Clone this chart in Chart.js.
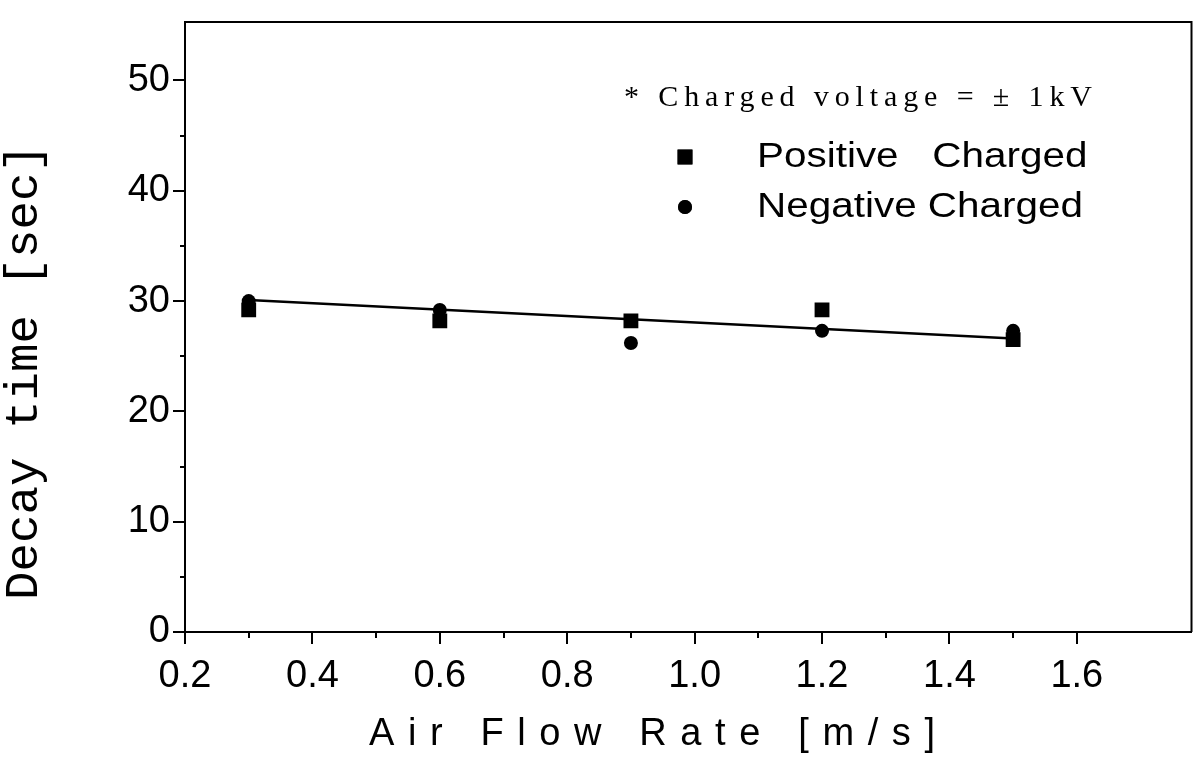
<!DOCTYPE html>
<html>
<head>
<meta charset="utf-8">
<script src="https://cdn.jsdelivr.net/npm/chart.js@4.4.1/dist/chart.umd.min.js"></script>
<style>
  html, body { margin: 0; padding: 0; background: #fff; }
  #wrap { width: 1202px; height: 758px; }
</style>
</head>
<body>
<div id="wrap"><canvas id="decay-chart" width="1202" height="758"></canvas></div>
<script>
const flowRates = [0.3, 0.6, 0.9, 1.2, 1.5];
const positiveDecay = [29.2, 28.2, 28.2, 29.2, 26.5];
const negativeDecay = [30.0, 29.2, 26.2, 27.3, 27.3];
const fitFlow = [0.3, 1.5];
const fitDecay = [30.1, 26.6];
const xMajorTicks = [0.2, 0.4, 0.6, 0.8, 1.0, 1.2, 1.4, 1.6];
const xMinorTicks = [0.3, 0.5, 0.7, 0.9, 1.1, 1.3, 1.5];
const yMajorTicks = [0, 10, 20, 30, 40, 50];
const yMinorTicks = [5, 15, 25, 35, 45];
const seriesLabels = ["Positive   Charged", "Negative Charged"];
const noteText = "* Charged voltage = \u00b1 1kV";
const xTitle = "Air Flow Rate [m/s]";
const yTitle = "Decay time [sec]";

const SANS = '"Liberation Sans", Arial, sans-serif';
const SERIF = '"Liberation Serif", "Times New Roman", serif';
const MONO = '"Liberation Mono", "Courier New", monospace';

function toPoints(xs, ys) {
  return xs.map((x, i) => ({ x: x, y: ys[i] }));
}

// draw text squeezed/stretched to a given width
function fillFit(ctx, text, x, y, width) {
  const w = ctx.measureText(text).width;
  ctx.save();
  ctx.translate(x, y);
  ctx.scale(width / w, 1);
  ctx.textAlign = "left";
  ctx.fillText(text, 0, 0);
  ctx.restore();
}

// draw text with letter spacing so that it spans width, starting at x
function fillSpaced(ctx, text, x, y, width) {
  ctx.save();
  ctx.letterSpacing = "0px";
  const natural = ctx.measureText(text).width;
  const gap = (width - natural) / (text.length - 1);
  ctx.letterSpacing = gap + "px";
  ctx.textAlign = "left";
  ctx.fillText(text, x, y);
  ctx.restore();
}

const decorations = {
  id: "decorations",
  afterDraw(chart) {
    const ctx = chart.ctx;
    const area = chart.chartArea;
    const xs = chart.scales.x;
    const ys = chart.scales.y;

    ctx.save();
    ctx.strokeStyle = "#000";
    ctx.fillStyle = "#000";
    ctx.lineWidth = 2;

    // top and right frame
    ctx.beginPath();
    ctx.moveTo(area.left, area.top);
    ctx.lineTo(area.right, area.top);
    ctx.lineTo(area.right, area.bottom);
    ctx.stroke();

    // tick marks
    ctx.beginPath();
    xMajorTicks.forEach((v) => {
      const px = Math.round(xs.getPixelForValue(v));
      ctx.moveTo(px, area.bottom);
      ctx.lineTo(px, area.bottom + 12);
    });
    xMinorTicks.forEach((v) => {
      const px = Math.round(xs.getPixelForValue(v));
      ctx.moveTo(px, area.bottom);
      ctx.lineTo(px, area.bottom + 6);
    });
    yMajorTicks.forEach((v) => {
      const py = Math.round(ys.getPixelForValue(v));
      ctx.moveTo(area.left, py);
      ctx.lineTo(area.left - 12, py);
    });
    yMinorTicks.forEach((v) => {
      const py = Math.round(ys.getPixelForValue(v));
      ctx.moveTo(area.left, py);
      ctx.lineTo(area.left - 5, py);
    });
    ctx.stroke();

    // axis titles
    ctx.textBaseline = "middle";
    ctx.font = "38px " + SANS;
    fillSpaced(ctx, xTitle, 369, 735, 566);

    ctx.save();
    ctx.translate(25, 372);
    ctx.rotate(-Math.PI / 2);
    ctx.font = "46px " + MONO;
    fillFit(ctx, yTitle, -228, 0, 456);
    ctx.restore();

    // note
    ctx.font = "30px " + SERIF;
    fillSpaced(ctx, noteText, 624, 98, 468);

    // legend
    const rows = [157, 207];
    ctx.font = "35px " + SANS;
    const stretch = 326 / ctx.measureText(seriesLabels[1]).width;
    chart.data.datasets.slice(0, 2).forEach((ds, i) => {
      Chart.helpers.drawPoint(ctx, {
        pointStyle: ds.pointStyle,
        radius: ds.pointRadius,
        rotation: 0,
        borderWidth: 0
      }, 685, rows[i]);
      ctx.fill();
      const w = ctx.measureText(ds.label).width * stretch;
      fillFit(ctx, ds.label, 757, rows[i], w);
    });

    ctx.restore();
  }
};

function dropPadding(scale) {
  scale.paddingTop = 0;
  scale.paddingBottom = 0;
  scale.paddingLeft = 0;
  scale.paddingRight = 0;
}

new Chart(document.getElementById("decay-chart"), {
  type: "scatter",
  data: {
    datasets: [
      {
        label: seriesLabels[0],
        data: toPoints(flowRates, positiveDecay),
        pointStyle: "rect",
        pointRadius: 10.5,
        backgroundColor: "#000",
        borderColor: "#000",
        borderWidth: 0
      },
      {
        label: seriesLabels[1],
        data: toPoints(flowRates, negativeDecay),
        pointStyle: "circle",
        pointRadius: 7,
        backgroundColor: "#000",
        borderColor: "#000",
        borderWidth: 0
      },
      {
        label: "fit",
        data: toPoints(fitFlow, fitDecay),
        showLine: true,
        pointRadius: 0,
        borderColor: "#000",
        borderWidth: 2.5,
        order: 5
      }
    ]
  },
  options: {
    responsive: false,
    animation: false,
    devicePixelRatio: 1,
    layout: {
      padding: { left: 0, right: 4, top: 22, bottom: 0 }
    },
    scales: {
      x: {
        type: "linear",
        min: 0.2,
        max: 1.78,
        afterBuildTicks: (scale) => {
          scale.ticks = xMajorTicks.map((v) => ({ value: v }));
        },
        afterFit: (scale) => {
          scale.height = 126;
          dropPadding(scale);
        },
        grid: { display: false, drawTicks: false },
        border: { display: true, color: "#000", width: 2 },
        ticks: {
          color: "#000",
          padding: 22,
          font: { family: SANS, size: 38 },
          maxRotation: 0,
          callback: (v) => Number(v).toFixed(1)
        }
      },
      y: {
        type: "linear",
        min: 0,
        max: 55.3,
        afterBuildTicks: (scale) => {
          scale.ticks = yMajorTicks.map((v) => ({ value: v }));
        },
        afterFit: (scale) => {
          scale.width = 185;
          dropPadding(scale);
        },
        grid: { display: false, drawTicks: false },
        border: { display: true, color: "#000", width: 2 },
        ticks: {
          color: "#000",
          padding: 15,
          font: { family: SANS, size: 38 },
          callback: (v) => String(v)
        }
      }
    },
    plugins: {
      legend: { display: false },
      tooltip: { enabled: false }
    }
  },
  plugins: [decorations]
});
</script>
</body>
</html>
